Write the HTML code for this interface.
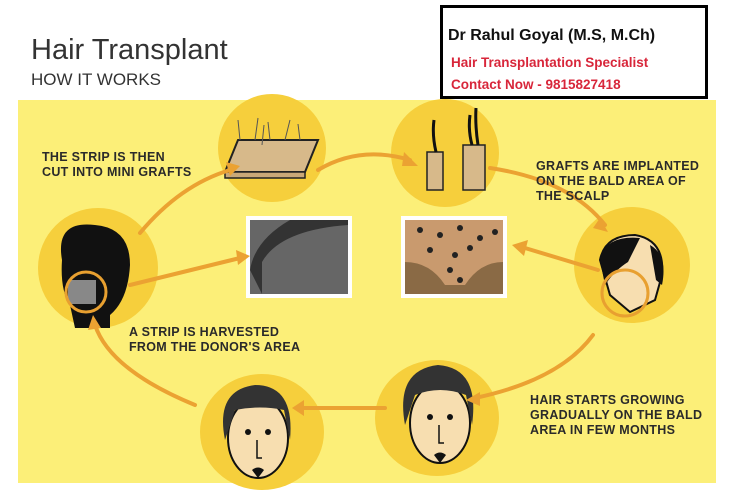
<!DOCTYPE html>
<html><head><meta charset="utf-8"><style>
body{margin:0;background:#fff;}
svg{display:block}
.t{font-family:"Liberation Sans",sans-serif;font-weight:bold;font-size:12.5px;fill:#2a2a2a;letter-spacing:0.3px}
</style></head><body>
<svg width="731" height="500" viewBox="0 0 731 500" xmlns="http://www.w3.org/2000/svg">
<rect x="18" y="100" width="698" height="383" fill="#fcef78"/>
<text x="31" y="59" font-family="Liberation Sans,sans-serif" font-size="29" fill="#333">Hair Transplant</text>
<text x="31" y="85" font-family="Liberation Sans,sans-serif" font-size="17" fill="#333">HOW IT WORKS</text>
<rect x="441.5" y="6.5" width="265" height="91" fill="#fff" stroke="#000" stroke-width="3"/>
<text x="448" y="40" font-family="Liberation Sans,sans-serif" font-weight="bold" font-size="16" fill="#111">Dr Rahul Goyal (M.S, M.Ch)</text>
<text x="451" y="67" font-family="Liberation Sans,sans-serif" font-weight="bold" font-size="13.5" fill="#d8263a">Hair Transplantation Specialist</text>
<text x="451" y="89" font-family="Liberation Sans,sans-serif" font-weight="bold" font-size="13.5" fill="#d8263a">Contact Now - 9815827418</text>
<g fill="#f6cf3c">
<circle cx="272" cy="148" r="54"/>
<circle cx="445" cy="153" r="54"/>
<circle cx="98" cy="268" r="60"/>
<circle cx="632" cy="265" r="58"/>
<ellipse cx="262" cy="432" rx="62" ry="58"/>
<ellipse cx="437" cy="418" rx="62" ry="58"/>
</g>
<!-- strip -->
<polygon points="238,140 318,140 305,172 225,172" fill="#d7b98a" stroke="#222" stroke-width="2"/>
<rect x="225" y="172" width="80" height="6" fill="#c9a878" stroke="#222" stroke-width="1.5"/>
<g stroke="#555" stroke-width="1"><line x1="240" y1="140" x2="238" y2="120"/><line x1="255" y1="140" x2="258" y2="118"/><line x1="270" y1="140" x2="268" y2="122"/><line x1="285" y1="140" x2="290" y2="120"/><line x1="300" y1="140" x2="298" y2="124"/><line x1="262" y1="145" x2="264" y2="125"/></g>
<!-- grafts -->
<rect x="427" y="152" width="16" height="38" fill="#d7b98a" stroke="#222" stroke-width="1.5"/>
<rect x="463" y="145" width="22" height="45" fill="#d7b98a" stroke="#222" stroke-width="1.5"/>
<path d="M436,152 Q432,135 434,120" stroke="#111" stroke-width="3" fill="none"/>
<path d="M472,145 Q468,130 470,115 M478,145 Q475,125 476,108" stroke="#111" stroke-width="3" fill="none"/>
<!-- image boxes -->
<rect x="246" y="216" width="106" height="82" fill="#fff"/>
<rect x="250" y="220" width="98" height="74" fill="#666"/>
<path d="M262,294 L262,262 Q280,230 348,225 L348,220 L290,220 Q255,240 250,270 Z" fill="#333"/>
<rect x="401" y="216" width="106" height="82" fill="#fff"/>
<rect x="405" y="220" width="98" height="74" fill="#c99a6e"/>
<path d="M405,262 Q430,262 445,285 L465,285 Q480,262 503,262 L503,294 L405,294 Z" fill="#8a6a45"/>
<g fill="#222"><circle cx="420" cy="230" r="3"/><circle cx="440" cy="235" r="3"/><circle cx="460" cy="228" r="3"/><circle cx="480" cy="238" r="3"/><circle cx="430" cy="250" r="3"/><circle cx="455" cy="255" r="3"/><circle cx="470" cy="248" r="3"/><circle cx="495" cy="232" r="3"/><circle cx="450" cy="270" r="3"/><circle cx="460" cy="280" r="3"/></g>
<!-- back head -->
<path d="M62,260 Q55,220 95,225 Q130,228 130,265 Q128,300 110,315 L110,328 L75,328 L70,305 Q60,290 62,260 Z" fill="#111"/>
<rect x="68" y="280" width="28" height="24" fill="#888"/>
<circle cx="86" cy="292" r="20" fill="none" stroke="#e8a030" stroke-width="3"/>
<!-- right head -->
<path d="M600,260 Q605,235 635,235 Q665,240 662,275 L655,300 L630,312 L610,295 Z" fill="#f7deb0" stroke="#111" stroke-width="2"/>
<path d="M600,260 Q605,235 640,238 L628,262 Q615,270 605,285 Z" fill="#111"/>
<path d="M650,245 Q668,255 662,285 L656,280 Z" fill="#111"/>
<circle cx="625" cy="293" r="23" fill="none" stroke="#e8a030" stroke-width="3"/>
<!-- faces -->
<g>
<ellipse cx="258" cy="438" rx="30" ry="40" fill="#f7deb0" stroke="#111" stroke-width="2"/>
<path d="M225,440 Q215,390 255,385 Q295,385 290,440 L284,410 Q260,405 235,410 Z" fill="#333"/>
<circle cx="248" cy="432" r="3" fill="#111"/><circle cx="268" cy="432" r="3" fill="#111"/>
<path d="M257,440 L257,458 L262,458" stroke="#111" stroke-width="1.5" fill="none"/>
<path d="M252,470 Q258,465 264,470 L258,478 Z" fill="#111"/>
</g>
<g>
<ellipse cx="440" cy="423" rx="30" ry="40" fill="#f7deb0" stroke="#111" stroke-width="2"/>
<path d="M405,425 Q395,370 438,365 Q480,368 472,425 L466,395 Q440,385 415,395 Z" fill="#333"/>
<circle cx="430" cy="417" r="3" fill="#111"/><circle cx="450" cy="417" r="3" fill="#111"/>
<path d="M439,425 L439,443 L444,443" stroke="#111" stroke-width="1.5" fill="none"/>
<path d="M434,455 Q440,450 446,455 L440,463 Z" fill="#111"/>
</g>
<!-- arrows -->
<g stroke="#eba232" stroke-width="4" fill="none" stroke-linecap="round">
<path d="M140,233 Q180,185 230,170"/>
<path d="M318,170 Q360,145 410,160"/>
<path d="M490,168 Q570,180 605,225"/>
<path d="M598,270 L525,248"/>
<path d="M130,285 L240,258"/>
<path d="M593,335 Q560,380 475,398"/>
<path d="M385,408 L300,408"/>
<path d="M195,405 Q110,370 95,325"/>
</g>
<g fill="#eba232">
<polygon points="240,166 226,162 230,176"/>
<polygon points="418,166 404,152 402,166"/>
<polygon points="608,232 600,218 593,228"/>
<polygon points="512,245 528,240 524,256"/>
<polygon points="250,256 236,250 238,265"/>
<polygon points="466,400 480,392 480,406"/>
<polygon points="292,408 304,400 304,416"/>
<polygon points="93,315 88,330 101,328"/>
</g>
<text class="t" x="42" y="161">THE STRIP IS THEN</text>
<text class="t" x="42" y="176">CUT INTO MINI GRAFTS</text>
<text class="t" x="536" y="170">GRAFTS ARE IMPLANTED</text>
<text class="t" x="536" y="185">ON THE BALD AREA OF</text>
<text class="t" x="536" y="200">THE SCALP</text>
<text class="t" x="129" y="336">A STRIP IS HARVESTED</text>
<text class="t" x="129" y="351">FROM THE DONOR'S AREA</text>
<text class="t" x="530" y="404">HAIR STARTS GROWING</text>
<text class="t" x="530" y="419">GRADUALLY ON THE BALD</text>
<text class="t" x="530" y="434">AREA IN FEW MONTHS</text>
</svg>
</body></html>
